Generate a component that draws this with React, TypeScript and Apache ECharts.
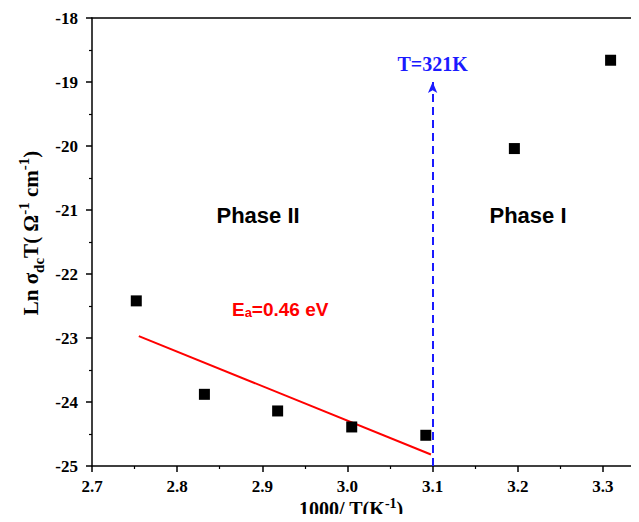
import React, { useEffect, useRef } from "react";
import * as echarts from "echarts";

// Measured data: 1000/T (K^-1) vs Ln(sigma_dc T)
const invT = [2.752, 2.832, 2.918, 3.005, 3.092, 3.196, 3.309];
const lnSigmaT = [-22.42, -23.88, -24.14, -24.39, -24.52, -20.04, -18.66];

// Arrhenius fit line (Phase II)
const fitX = [2.755, 3.098];
const fitY = [-22.97, -24.82];

// Phase transition marker
const transitionX = 3.1;
const transitionTop = -19.0;
const transitionLabel = "T=321K";

// Annotations
const annotX = [2.895, 3.212, 2.921];
const annotY = [-21.09, -21.09, -22.55];
const annotText = ["Phase II", "Phase I", "E{sub|a}=0.46 eV"];
const annotColor = ["#000000", "#000000", "#ff0000"];
const annotSize = [22, 22, 19];

const X_MIN = 2.7, X_MAX = 3.34, Y_MIN = -25, Y_MAX = -18;

export default function App() {
  const ref = useRef<HTMLDivElement>(null);
  useEffect(() => {
    if (!ref.current) return;
    const chart = echarts.init(ref.current, null, { renderer: "svg" });
    const serif = "Liberation Serif";
    const sans = "Liberation Sans";
    const tickFont = { fontFamily: serif, fontWeight: "bold", fontSize: 17, color: "#000" };
    chart.setOption({
      animation: false,
      backgroundColor: "#ffffff",
      grid: { left: 92, right: 2, top: 18, bottom: 56, containLabel: false, outerBoundsMode: "none" },
      xAxis: [
        {
          type: "value",
          min: X_MIN,
          max: X_MAX,
          interval: 0.1,
          position: "bottom",
          name: "1000/ T(K{sup|-1})",
          nameLocation: "middle",
          nameGap: 30,
          nameMoveOverlap: false,
          nameTextStyle: {
            fontFamily: serif, fontWeight: "bold", fontSize: 20, color: "#000", lineHeight: 26,
            padding: [0, 27, 0, 0],
            rich: {
              sup: { fontFamily: serif, fontWeight: "bold", fontSize: 14, lineHeight: 12, verticalAlign: "top", color: "#000" },
            },
          },
          axisLine: { show: true, lineStyle: { color: "#000", width: 1.5 } },
          axisTick: { show: true, inside: false, length: 6, lineStyle: { color: "#000", width: 1.5 } },
          minorTick: { show: true, splitNumber: 2, length: 3, lineStyle: { color: "#000", width: 1.2 } },
          splitLine: { show: false },
          axisLabel: {
            showMaxLabel: false,
            margin: 12,
            ...tickFont,
            formatter: (v: number) => v.toFixed(1),
          },
        },
        {
          type: "value",
          min: X_MIN,
          max: X_MAX,
          position: "top",
          axisLine: { show: true, onZero: false, lineStyle: { color: "#000", width: 1.5 } },
          axisTick: { show: false },
          axisLabel: { show: false },
          splitLine: { show: false },
        },
      ],
      yAxis: {
        type: "value",
        min: Y_MIN,
        max: Y_MAX,
        interval: 1,
        name: "Ln σ{sub|dc}T( Ω{sup|-1} cm{sup|-1})",
        nameLocation: "middle",
        nameRotate: 90,
        nameGap: 46,
        nameMoveOverlap: false,
        nameTextStyle: {
          fontFamily: serif, fontWeight: "bold", fontSize: 21, color: "#000", lineHeight: 30,
          padding: [0, 0, 0, 18],
          rich: {
            sub: { fontFamily: serif, fontWeight: "bold", fontSize: 15, lineHeight: 18, verticalAlign: "bottom", color: "#000" },
            sup: { fontFamily: serif, fontWeight: "bold", fontSize: 15, lineHeight: 14, verticalAlign: "top", color: "#000" },
          },
        },
        axisLine: { show: true, onZero: false, lineStyle: { color: "#000", width: 1.5 } },
        axisTick: { show: true, inside: false, length: 6, lineStyle: { color: "#000", width: 1.5 } },
        minorTick: { show: true, splitNumber: 2, length: 3, lineStyle: { color: "#000", width: 1.2 } },
        splitLine: { show: false },
        axisLabel: {
          margin: 14,
          ...tickFont,
        },
      },
      series: [
        {
          type: "scatter",
          name: "data",
          symbol: "rect",
          symbolSize: 11,
          itemStyle: { color: "#000", opacity: 1 },
          data: invT.map((x, i) => [x, lnSigmaT[i]]),
          z: 5,
        },
        {
          type: "line",
          name: "fit",
          data: fitX.map((x, i) => [x, fitY[i]]),
          symbol: "none",
          lineStyle: { color: "#ff0000", width: 2 },
          z: 4,
          markLine: {
            silent: true,
            symbol: ["none", "arrow"],
            symbolSize: [7, 11],
            lineStyle: { color: "#1a1aff", width: 2, type: [8, 5] },
            label: {
              show: true,
              position: "end",
              distance: 8,
              formatter: transitionLabel,
              fontFamily: serif, fontWeight: "bold", fontSize: 20, color: "#1a1aff",
            },
            data: [[{ coord: [transitionX, Y_MIN] }, { coord: [transitionX, transitionTop] }]],
          },
        },
        {
          type: "scatter",
          name: "annotations",
          symbol: "circle",
          symbolSize: 1,
          silent: true,
          itemStyle: { color: "rgba(255,255,255,0)", opacity: 1 },
          z: 6,
          data: annotX.map((x, i) => ({
            value: [x, annotY[i]],
            label: {
              show: true,
              position: "inside",
              formatter: annotText[i],
              opacity: 1,
              fontFamily: sans, fontWeight: "bold", fontSize: annotSize[i], color: annotColor[i],
              rich: {
                sub: { fontFamily: sans, fontWeight: "bold", fontSize: 13, lineHeight: 12, verticalAlign: "bottom", color: annotColor[i] },
              },
            },
          })),
        },
      ],
    });
    return () => chart.dispose();
  }, []);
  return <div ref={ref} style={{ width: 639, height: 522, margin: -8 }} />;
}
